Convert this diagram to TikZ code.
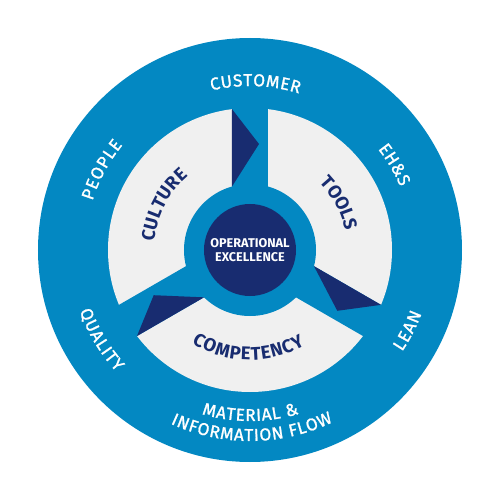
\documentclass[tikz,border=0pt]{standalone}
\usepackage{fontspec}
\setmainfont{Fira Sans}
\newfontfamily\ringfamily{Fira Sans}[FakeBold=1.2]
\usetikzlibrary{decorations.text}
\definecolor{ringblue}{RGB}{3,136,194}
\definecolor{navy}{RGB}{24,44,112}
\definecolor{petal}{RGB}{240,240,240}
\newcommand{\ringfont}{\ringfamily\fontsize{9.8}{10}\selectfont}
\newcommand{\petalfont}{\fontsize{10.5}{11}\selectfont\bfseries}
\tikzstyle{ringtext} = [decorate,decoration={text along path,text color=white,text align={fit to path}}]
\tikzstyle{petaltext} = [decorate,decoration={text along path,text color=navy,text align={fit to path}}]
\tikzstyle{core} = [align=center,text=white,font=\fontsize{7.2}{7.8}\selectfont\bfseries]

\begin{document}
\begin{tikzpicture}[x=0.2mm,y=0.2mm]
	\useasboundingbox (-250,-250) rectangle (250,250);
	\fill[ringblue] (0,0) circle (212);
	\fill[petal] (0,0) circle (142);
	\foreach \a in {90,210,330}
		\fill[ringblue,rotate=\a] (0,-18) -- (150,-18) -- (150,18) -- (0,18) -- cycle;
	\fill[ringblue] (0,0) circle (66);
	\fill[navy] (0,0) circle (46);
	\foreach \a in {0,120,240}
		\fill[navy,rotate=\a] (-18,140.9) -- (9,106) -- (-18,63.5) -- cycle;
	\node (oe) [core] at (0,0) {OPERATIONAL\\EXCELLENCE};
	\path[ringtext,decoration={text={|\ringfont|CUSTOMER}}] (103.6:164) arc (103.6:72.6:164);
	\path[ringtext,decoration={text={|\ringfont|PEOPLE}}] (162.7:165) arc (162.7:140.5:165);
	\path[ringtext,decoration={text={|\ringfont|EH{\&}S}}] (38.3:163) arc (38.3:22.8:163);
	\path[ringtext,decoration={text={|\ringfont|LEAN}}] (-33.8:183) arc (-33.8:-20.3:183);
	\path[ringtext,decoration={text={|\ringfont|QUALITY}}] (199.7:181) arc (199.7:222.4:181);
	\path[ringtext,decoration={text={|\ringfont|MATERIAL {\&}}}] (-106.4:171) arc (-106.4:-73.3:171);
	\path[ringtext,decoration={text={|\ringfont|INFORMATION FLOW}}] (-114.6:191) arc (-114.6:-64.2:191);
	\path[petaltext,decoration={text={|\petalfont|CULTURE}}] (175:96) arc (175:130:96);
	\path[petaltext,decoration={text={|\petalfont|TOOLS}}] (44:97) arc (44:14:97);
	\path[petaltext,decoration={text={|\petalfont|COMPETENCY}}] (-122:110) arc (-122:-60:110);
\end{tikzpicture}
\end{document}
